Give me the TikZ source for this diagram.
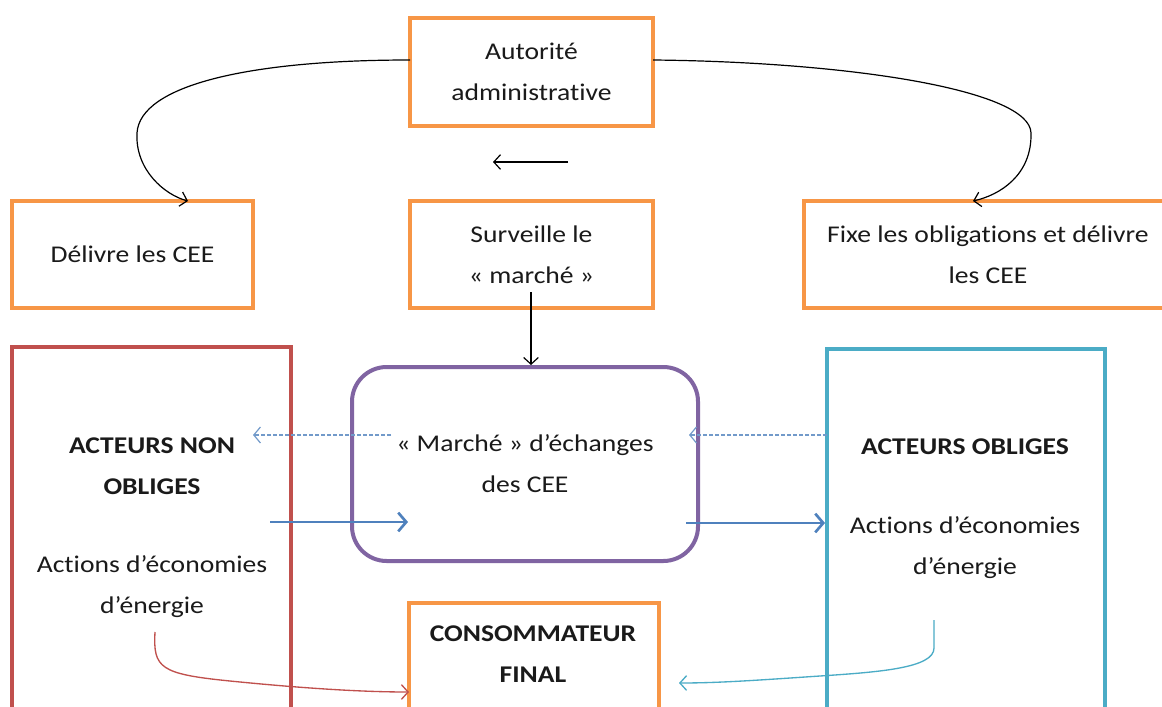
\documentclass[tikz,border=0pt]{standalone}
\usepackage{fontspec}
\setmainfont{Carlito}[FakeStretch=1.15,Ligatures=NoCommon]
\usetikzlibrary{arrows.meta}
\definecolor{cOrange}{HTML}{F79646}
\definecolor{cRed}{HTML}{C0504D}
\definecolor{cTeal}{HTML}{4BACC6}
\definecolor{cPurple}{HTML}{8064A2}
\definecolor{cBlue}{HTML}{4F81BD}
\definecolor{cText}{HTML}{1A1A1A}
\tikzset{
  obox/.style={draw=cOrange, line width=3.2pt, inner sep=0pt, align=center},
  txt/.style={inner sep=0pt, align=center, text=cText, font=\fontsize{18}{30.75}\selectfont},
  blk/.style={draw=black, line width=0.9pt, -{Straight Barb[length=5pt,width=11pt,line width=0.9pt]}},
  bluethick/.style={draw=cBlue, line width=2.2pt, -{Straight Barb[length=6pt,width=14pt,line width=2pt]}},
  bluedash/.style={draw=cBlue!80, line width=0.9pt, dashed, dash pattern=on 3pt off 1.5pt, -{Straight Barb[length=5pt,width=12pt,line width=0.9pt]}},
}
\begin{document}
\begin{tikzpicture}[x=0.75pt,y=-0.75pt]
\fill[white] (0,0) rectangle (1162,706);
\clip (0,0) rectangle (1162,706);
% orange boxes
\node[obox, txt, minimum width=182.25pt, minimum height=81pt] (auth) at (531.5,72) {Autorité\\administrative};
\node[obox, txt, minimum width=180.75pt, minimum height=80.25pt] (deliv) at (132.5,254.5) {Délivre les CEE};
\node[obox, txt, minimum width=182.25pt, minimum height=80.25pt] (surv) at (531.5,254.5) {Surveille le\\« marché »};
\node[obox, txt, minimum width=276pt, minimum height=80.25pt] (fixe) at (988,254.5) {Fixe les obligations et délivre\\les CEE};
% actors boxes
\node[draw=cRed, line width=3pt, minimum width=209.25pt, minimum height=279.75pt, inner sep=0pt] (nonob) at (151.5,533.5) {};
\node[draw=cTeal, line width=3pt, minimum width=208.5pt, minimum height=278.25pt, inner sep=0pt] (oblig) at (966,534.5) {};
\node[draw=cPurple, line width=3pt, rounded corners=26pt, minimum width=259.5pt, minimum height=145.5pt, inner sep=0pt, txt] (march) at (525,464) {« Marché » d’échanges\\des CEE};
\node[obox, minimum width=187.5pt, minimum height=87.75pt] (conso) at (534,661.5) {};
% texts
\node[txt, font=\fontsize{18}{30.75}\selectfont\bfseries] (nonobT) at (152,466) {ACTEURS NON\\OBLIGES};
\node[txt] (nonobA) at (152,587) {Actions d’économies\\d’énergie};
\node[txt, font=\fontsize{18}{30.75}\selectfont\bfseries] (obligT) at (965,447) {ACTEURS OBLIGES};
\node[txt] (obligA) at (965,548) {Actions d’économies\\d’énergie};
\node[txt, font=\fontsize{18}{30.75}\selectfont\bfseries] (consoT) at (533,654) {CONSOMMATEUR\\FINAL};
% coordinates
\coordinate (aL) at (410,60);
\coordinate (aR) at (653,60);
\coordinate (dTip) at (188,201);
\coordinate (fTip) at (973,201);
\coordinate (smallA) at (568,162);
\coordinate (smallB) at (493,162);
\coordinate (survS) at (531,292);
\coordinate (dashL1) at (391,435);
\coordinate (dashL2) at (253,435);
\coordinate (dashR1) at (827,435);
\coordinate (dashR2) at (689,435);
\coordinate (bl1) at (270,522);
\coordinate (bl2) at (408,522);
\coordinate (br1) at (686,523);
\coordinate (br2) at (825,523);
\coordinate (rS) at (155,632);
\coordinate (rE) at (409,692);
\coordinate (tS) at (934,620);
\coordinate (tE) at (679,683);
% connectors
\draw[blk] (aL) .. controls (250,60) and (140,85) .. (137,133) .. controls (135,170) and (165,195) .. (dTip);
\draw[blk] (aR) .. controls (850,62) and (1030,90) .. (1031,133) .. controls (1032,175) and (1000,195) .. (fTip);
\draw[blk] (smallA) -- (smallB);
\draw[blk] (survS) -- (survS |- march.north);
\draw[bluedash] (dashL1) -- (dashL2);
\draw[bluedash] (dashR1) -- (dashR2);
\draw[bluethick] (bl1) -- (bl2);
\draw[bluethick] (br1) -- (br2);
\draw[draw=cRed, line width=1pt, -{Straight Barb[length=5pt,width=11pt,line width=1pt]}] (rS) .. controls (153,668) and (160,674) .. (230,681) .. controls (300,688) and (360,692) .. (rE);
\draw[draw=cTeal, line width=1pt, -{Straight Barb[length=5pt,width=11pt,line width=1pt]}] (tS) -- (934,648) .. controls (934,668) and (880,672) .. (820,676) .. controls (760,680) and (720,683) .. (tE);
\end{tikzpicture}
\end{document}
